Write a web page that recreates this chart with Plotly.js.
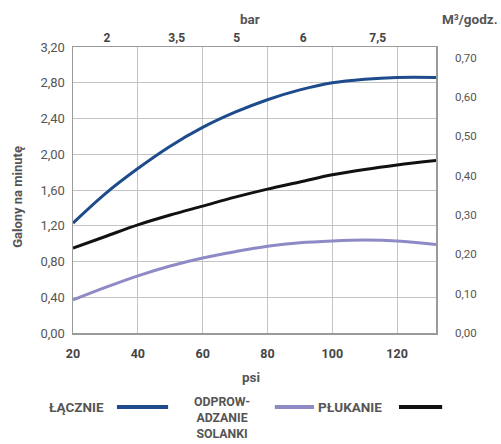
<!DOCTYPE html>
<html>
<head>
<meta charset="utf-8">
<script src="https://cdn.plot.ly/plotly-3.0.1.min.js"></script>
<style>html,body{margin:0;padding:0;background:#fff;}#chart{width:501px;height:444px;}</style>
</head>
<body>
<div id="chart"></div>
<script>
// pressure (psi)
const psi = [20, 30, 40, 50, 60, 70, 80, 90, 100, 110, 120, 132];
// flow, gallons per minute
const laczne     = [1.23, 1.56, 1.84, 2.09, 2.30, 2.47, 2.61, 2.72, 2.80, 2.84, 2.86, 2.86];
const plukanie   = [0.95, 1.08, 1.21, 1.32, 1.42, 1.52, 1.61, 1.69, 1.77, 1.83, 1.88, 1.93];
const odprow     = [0.37, 0.51, 0.64, 0.75, 0.84, 0.91, 0.97, 1.01, 1.03, 1.04, 1.03, 0.99];
// top axis tick labels (bar) and the psi value under each label as printed
const barTickText = ['2', '3,5', '5', '6', '7,5'];
const barTickAtPsi = [30.5, 52, 70.5, 91, 114];
// right axis ticks (m3/h)
const m3Ticks = [0, 0.1, 0.2, 0.3, 0.4, 0.5, 0.6, 0.7];

const GPM_TO_M3H = 0.2271;
const xRange = [20, 132];
const yRange = [0, 3.2];

const cBlue = '#1d4b8c', cPurple = '#8e8ac6', cBlack = '#111111';
const gray = '#555555';
const FONT = 'Roboto, "DejaVu Sans", sans-serif';

const traces = [
  {x: psi, y: laczne, mode: 'lines', line: {color: cBlue, width: 3, shape: 'spline'}, name: 'ŁĄCZNIE'},
  {x: psi, y: plukanie, mode: 'lines', line: {color: cBlack, width: 3, shape: 'spline'}, name: 'PŁUKANIE'},
  {x: psi, y: odprow, mode: 'lines', line: {color: cPurple, width: 3, shape: 'spline'}, name: 'ODPROWADZANIE SOLANKI'},
  {x: [], y: [], xaxis: 'x2', yaxis: 'y2', showlegend: false, hoverinfo: 'skip'}
];

const LY = -0.259;
const legendItems = [
  {text: '<b>ŁĄCZNIE</b>', tx: -0.068, anchor: 'left', ty: LY, ya: 'middle', size: 13.5, lx0: 0.121, lx1: 0.262, color: cBlue},
  {text: '<b>ODPROW-<br>ADZANIE<br>SOLANKI</b>', tx: 0.410, anchor: 'center', ty: -0.212, ya: 'top', size: 12.3, lx0: 0.556, lx1: 0.664, color: cPurple},
  {text: '<b>PŁUKANIE</b>', tx: 0.672, anchor: 'left', ty: LY, ya: 'middle', size: 13.5, lx0: 0.898, lx1: 1.017, color: cBlack}
];

const annotations = [
  {text: '<b>bar</b>', xref: 'paper', yref: 'paper', x: 0.488, y: 1.098, xanchor: 'center', yanchor: 'middle', showarrow: false, font: {size: 13.5, color: gray, family: FONT}},
  {text: '<b>M³/godz.</b>', xref: 'paper', yref: 'paper', x: 1.176, y: 1.098, xanchor: 'right', yanchor: 'middle', showarrow: false, font: {size: 13.5, color: gray, family: FONT}},
  {text: '<b>psi</b>', xref: 'paper', yref: 'paper', x: 0.490, y: -0.154, xanchor: 'center', yanchor: 'middle', showarrow: false, font: {size: 13.5, color: gray, family: FONT}},
  {text: '<b>Galony na minutę</b>', xref: 'paper', yref: 'paper', x: -0.1515, y: 0.476, xanchor: 'center', yanchor: 'middle', textangle: -90, showarrow: false, font: {size: 13, color: gray, family: FONT}}
];
const shapes = [];
legendItems.forEach((it) => {
  annotations.push({text: it.text, xref: 'paper', yref: 'paper', x: it.tx, y: it.ty, xanchor: it.anchor, yanchor: it.ya, align: 'center', borderpad: 0, showarrow: false, font: {size: it.size, color: gray, family: FONT}});
  shapes.push({type: 'line', xref: 'paper', yref: 'paper', x0: it.lx0, x1: it.lx1, y0: LY, y1: LY, line: {color: it.color, width: 4}});
});

const layout = {
  width: 501, height: 444,
  margin: {l: 73, r: 65, t: 47, b: 111},
  paper_bgcolor: '#fff', plot_bgcolor: '#fff',
  separators: ',.',
  showlegend: false,
  font: {family: FONT, color: gray},
  xaxis: {range: xRange, tickvals: [20, 40, 60, 80, 100, 120], showgrid: true, gridcolor: '#c4c4c4', gridwidth: 1,
          showline: true, linecolor: '#9a9a9a', linewidth: 1.5, mirror: true, zeroline: false,
          ticks: '', ticklabelstandoff: 8, tickfont: {size: 12.5, color: '#444', family: FONT, weight: 'bold'}},
  yaxis: {range: yRange, dtick: 0.4, tickformat: '.2f', showgrid: true, gridcolor: '#c4c4c4', gridwidth: 1,
          showline: true, linecolor: '#9a9a9a', linewidth: 1.5, mirror: true, zeroline: false,
          ticks: '', ticklabelstandoff: 4, tickfont: {size: 13, color: gray, family: FONT}},
  xaxis2: {overlaying: 'x', side: 'top', anchor: 'y', range: xRange, tickvals: barTickAtPsi, ticktext: barTickText,
           showgrid: false, zeroline: false, showline: false, ticks: '', ticklabelstandoff: 2,
           tickfont: {size: 12, color: '#444', family: FONT, weight: 'bold'}},
  yaxis2: {overlaying: 'y', side: 'right', anchor: 'x', range: yRange.map(v => v * GPM_TO_M3H), tickvals: m3Ticks, tickformat: '.2f',
           showgrid: false, zeroline: false, showline: false, ticks: '', ticklabelstandoff: 18,
           tickfont: {size: 11.5, color: gray, family: FONT}},
  annotations: annotations,
  shapes: shapes
};

Plotly.newPlot('chart', traces, layout, {displayModeBar: false, staticPlot: true});
</script>
</body>
</html>
